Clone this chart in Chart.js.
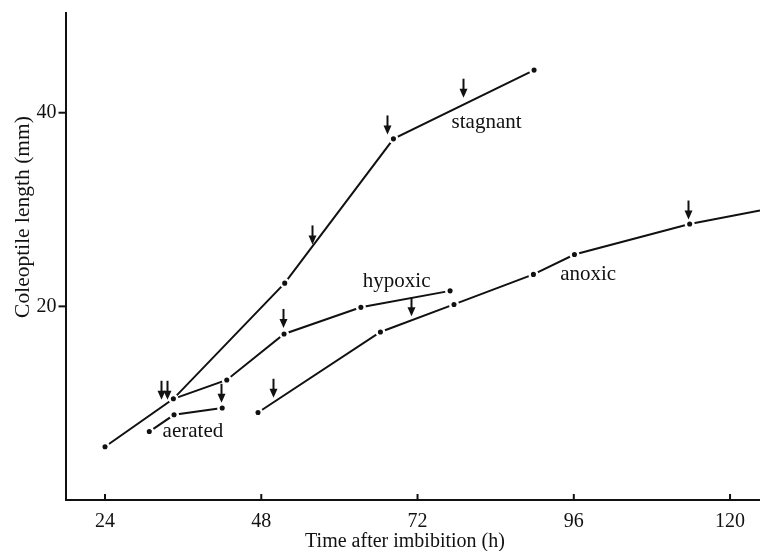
<!DOCTYPE html>
<html><head><meta charset="utf-8">
<script src="https://cdn.jsdelivr.net/npm/chart.js@4/dist/chart.umd.min.js"></script>
<style>html,body{margin:0;padding:0;background:#fff;} canvas{display:block;}</style>
</head><body>
<canvas id="c" width="760" height="551"></canvas>
<script>
// ---- data ----
const xTicks = [24, 48, 72, 96, 120];
const yTicks = [20, 40];
const stagnantX = [24, 34.5, 51.6, 68.3, 89.9];
const stagnantY = [5.5, 10.45, 22.4, 37.3, 44.4];
const hypoxicX = [34.5, 42.7, 51.5, 63.3, 77.0];
const hypoxicY = [10.45, 12.4, 17.15, 19.9, 21.6];
const aeratedX = [30.8, 34.6, 42.0];
const aeratedY = [7.07, 8.8, 9.5];
const anoxicX = [47.5, 66.3, 77.6, 89.8, 96.1, 113.8, 124.6];
const anoxicY = [9.04, 17.35, 20.2, 23.3, 25.35, 28.5, 29.9];
const arrowX = [32.6, 33.5, 41.8, 49.8, 51.3, 55.75, 67.3, 78.95, 71.0, 113.6];
const arrowY = [10.35, 10.35, 10.04, 10.56, 17.77, 26.4, 37.76, 41.55, 18.97, 28.97];
const seriesNames = ['stagnant', 'hypoxic', 'aerated', 'anoxic'];
const labelX = [82.6, 68.8, 37.5, 98.2];
const labelY = [38.45, 22.0, 6.5, 22.76];
const xTitle = 'Time after imbibition (h)';
const yTitle = 'Coleoptile length (mm)';

const toPts = (xs, ys) => xs.map((v, i) => ({x: v, y: ys[i]}));
const INK = '#111';
const FONT = '"Liberation Serif", "Times New Roman", serif';
Chart.defaults.font.family = FONT;
Chart.defaults.color = INK;

function ds(label, pts, lastHidden) {
  return {
    label, data: pts,
    borderColor: INK, borderWidth: 2, tension: 0,
    backgroundColor: INK,
    pointBackgroundColor: INK, pointBorderColor: '#fff', pointBorderWidth: 2.5,
    pointRadius: lastHidden ? (c => c.dataIndex === pts.length - 1 ? 0 : 3.8) : 3.8,
    showLine: true, fill: false
  };
}

const annot = {
  id: 'annot',
  afterDatasetsDraw(chart) {
    const {ctx, chartArea, scales: {x, y}} = chart;
    ctx.save();
    ctx.strokeStyle = INK; ctx.fillStyle = INK; ctx.lineWidth = 2; ctx.lineCap = 'butt';
    const seg = (a, b, c, d) => { ctx.beginPath(); ctx.moveTo(a, b); ctx.lineTo(c, d); ctx.stroke(); };
    xTicks.forEach(v => { const px = x.getPixelForValue(v); seg(px, chartArea.bottom, px, chartArea.bottom - 6); });
    yTicks.forEach(v => { const py = y.getPixelForValue(v); seg(chartArea.left, py, chartArea.left - 7, py); });
    arrowX.forEach((v, i) => {
      const px = Math.round(x.getPixelForValue(v)) + 0.5, py = y.getPixelForValue(arrowY[i]);
      seg(px, py - 19, px, py - 6);
      ctx.beginPath(); ctx.moveTo(px - 4, py - 9); ctx.lineTo(px + 4, py - 9); ctx.lineTo(px, py); ctx.closePath(); ctx.fill();
    });
    ctx.font = '21px ' + FONT; ctx.textAlign = 'center'; ctx.textBaseline = 'alphabetic';
    seriesNames.forEach((n, i) => ctx.fillText(n, x.getPixelForValue(labelX[i]), y.getPixelForValue(labelY[i])));
    // axis titles
    ctx.font = '20px ' + FONT;
    ctx.fillText(xTitle, 405, 547);
    ctx.translate(29, 217); ctx.rotate(-Math.PI / 2);
    ctx.font = '21.5px ' + FONT;
    ctx.fillText(yTitle, 0, 0);
    ctx.restore();
  }
};

const noPad = s => { s.paddingTop = 0; s.paddingBottom = 0; s.paddingLeft = 0; s.paddingRight = 0; };

new Chart(document.getElementById('c'), {
  type: 'scatter',
  data: { datasets: [
    ds('stagnant', toPts(stagnantX, stagnantY)),
    ds('hypoxic', toPts(hypoxicX, hypoxicY)),
    ds('aerated', toPts(aeratedX, aeratedY)),
    ds('anoxic', toPts(anoxicX, anoxicY), true)
  ]},
  options: {
    responsive: false, animation: false, devicePixelRatio: 1,
    layout: { autoPadding: false, padding: { top: 13, right: 0, left: 0, bottom: 0 } },
    plugins: { legend: { display: false }, tooltip: { enabled: false } },
    scales: {
      x: {
        type: 'linear', min: 17.93, max: 124.6,
        afterBuildTicks: s => { s.ticks = xTicks.map(v => ({value: v})); },
        afterFit: s => { s.height = 51; noPad(s); },
        grid: { drawOnChartArea: false, drawTicks: false },
        border: { display: true, color: INK, width: 2 },
        ticks: { padding: 10, font: { size: 20 }, color: INK }
      },
      y: {
        type: 'linear', min: 0, max: 50.3,
        afterBuildTicks: s => { s.ticks = yTicks.map(v => ({value: v})); },
        afterFit: s => { s.width = 65.5; noPad(s); },
        grid: { drawOnChartArea: false, drawTicks: false },
        border: { display: true, color: INK, width: 2 },
        ticks: { padding: 9, font: { size: 20 }, color: INK }
      }
    }
  },
  plugins: [annot]
});
</script>
</body></html>
